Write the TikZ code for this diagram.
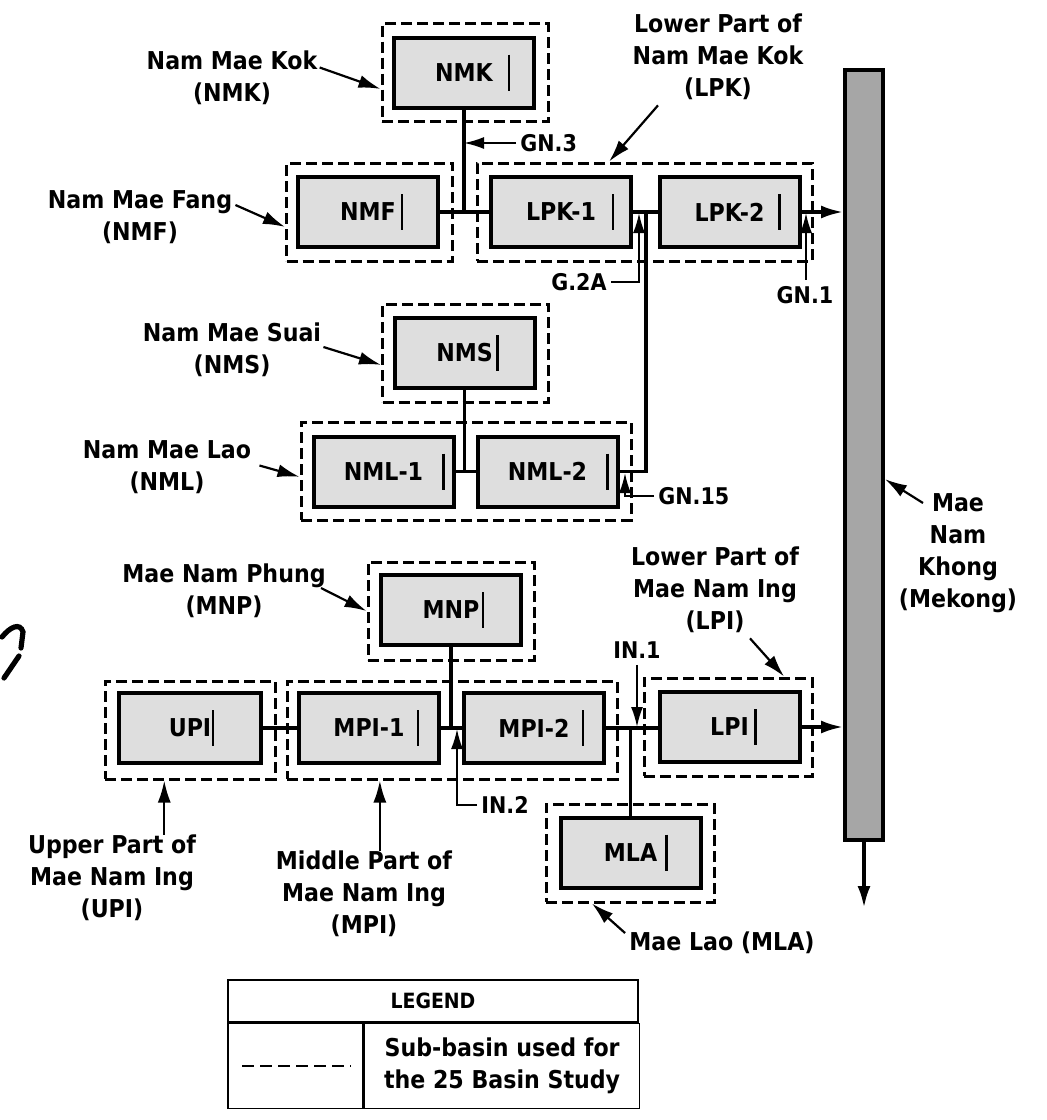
\documentclass[tikz,border=0pt]{standalone}
\usepackage{fontspec}
\setmainfont{DejaVu Sans Condensed}
\usetikzlibrary{arrows.meta,calc}
\begin{document}
\begin{tikzpicture}[x=0.5pt,y=-0.5pt,
  every node/.style={font=\bfseries\fontsize{12.3}{16}\selectfont, inner sep=0pt},
  basin/.style={draw, line width=2pt, fill=black!13, minimum width=70pt, minimum height=35pt},
  sub/.style={draw, dash pattern=on 5.5pt off 2.5pt, line width=1.5pt, minimum height=49pt, minimum width=83pt},
  subw/.style={sub, minimum width=166pt},
  river/.style={line width=1.8pt},
  flow/.style={line width=1.6pt, -{Latex[length=11pt,width=6.5pt]}},
  lab/.style={align=center},
  labarrow/.style={line width=1.1pt, -{Latex[length=11pt,width=6.5pt]}},
  gauge/.style={font=\bfseries\fontsize{11.5}{13}\selectfont},
  gaugearrow/.style={line width=1pt, -{Latex[length=10pt,width=6pt]}},
  cursor/.style={line width=1.2pt},
  legcell/.style={draw, line width=0.8pt, align=center},
]
\useasboundingbox (0,0) rectangle (1046,1120);

% sub-basin (dashed) outlines
\node[sub] (NMKo) at (465,72.5) {};
\node[sub] (NMFo) at (369.5,212) {};
\node[subw, minimum width=167.5pt] (LPKo) at (644.5,212) {};
\node[sub] (NMSo) at (465.5,353) {};
\node[subw, minimum width=165pt] (NMLo) at (466,471) {};
\node[sub] (MNPo) at (451,611) {};
\node[sub, minimum width=85pt] (UPIo) at (190,730) {};
\node[subw, minimum width=165pt] (MPIo) at (452,730) {};
\node[sub, minimum width=84pt] (LPIo) at (728,727) {};
\node[sub, minimum width=84pt] (MLAo) at (630,853) {};

% basins
\node[basin] (NMK) at (464,72.5) {NMK};
\node[basin] (NMF) at (368,212) {NMF};
\node[basin] (LPK1) at (561,212) {LPK-1};
\node[basin] (LPK2) at (729.5,212) {LPK-2};
\node[basin] (NMS) at (464.5,353) {NMS};
\node[basin] (NML1) at (383.5,471.5) {NML-1};
\node[basin] (NML2) at (547.5,471.5) {NML-2};
\node[basin] (MNP) at (451,610) {MNP};
\node[basin, minimum width=71pt] (UPI) at (190,728) {UPI};
\node[basin] (MPI1) at (369,728) {MPI-1};
\node[basin] (MPI2) at (534,728) {MPI-2};
\node[basin] (LPI) at (729.5,727) {LPI};
\node[basin] (MLA) at (630.5,852.5) {MLA};

\foreach \n/\d in {NMK/45,NMF/34,LPK1/52,LPK2/50,NMS/33,NML1/60,NML2/60,MNP/32,UPI/23,MPI1/49,MPI2/49,LPI/26,MLA/36}
  \draw[cursor] ([shift={(\d,-18)}]\n.center) -- ++(0,36);

% Mekong
\node[draw, line width=2pt, fill=black!35, minimum width=19pt, minimum height=385pt] (mek) at (864,455) {};

% river connections
\draw[river] (NMK.south) -- (NMK.south |- NMF.east);
\draw[river] (NMF.east) -- (LPK1.west);
\draw[river] (LPK1.east) -- (LPK2.west);
\draw[flow] (LPK2.east) -- (LPK2.east -| mek.west);
\coordinate (j2) at (646,212);
\draw[river] (NML2.east) -| (j2);
\draw[river] (NMS.south) -- (NMS.south |- NML1.east);
\draw[river] (NML1.east) -- (NML2.west);
\draw[river] (MNP.south) -- (MNP.south |- MPI1.east);
\draw[river] (UPI.east) -- (MPI1.west);
\draw[river] (MPI1.east) -- (MPI2.west);
\draw[river] (MPI2.east) -- (MPI2.east -| LPI.west);
\draw[river] (MLA.north) -- (MLA.north |- MPI2.east);
\draw[flow] (LPI.east) -- (LPI.east -| mek.west);
\coordinate (mekEnd) at (864,908);
\draw[flow, line width=1.8pt] (mek.south) -- (mekEnd);

% gauges
\node[gauge, anchor=west] (gn3) at (520,143) {GN.3};
\draw[gaugearrow, shorten <=2pt] (gn3.west) -- (gn3.west -| NMK.south);
\node[gauge, anchor=east] (g2a) at (607,282) {G.2A};
\coordinate (g2aT) at (639,213);
\draw[gaugearrow, shorten <=2pt] (g2a.east) -| (g2aT);
\node[gauge] (gn1) at (805,295) {GN.1};
\coordinate (gn1T) at (806,213);
\draw[gaugearrow, shorten <=3pt] (gn1.north -| gn1T) -- (gn1T);
\node[gauge, anchor=west] (gn15) at (658,496) {GN.15};
\coordinate (gn15T) at (625,473);
\draw[gaugearrow, shorten <=2pt] (gn15.west) -| (gn15T);
\node[gauge, anchor=west] (in2) at (481,805) {IN.2};
\coordinate (in2T) at (457,729);
\draw[gaugearrow, shorten <=2pt] (in2.west) -| (in2T);
\node[gauge] (in1) at (637,650) {IN.1};
\coordinate (in1T) at (637,727);
\draw[gaugearrow, shorten <=3pt] (in1.south) -- (in1T);

% labels
\node[lab] (nmkl) at (232,77.5) {Nam Mae Kok\\(NMK)};
\draw[labarrow] ([shift={(2,-10)}]nmkl.east) -- (NMKo.191);
\node[lab] (nmfl) at (140,217) {Nam Mae Fang\\(NMF)};
\draw[labarrow] ([shift={(3,-12)}]nmfl.east) -- (NMFo.190);
\node[lab] (nmsl) at (232,350) {Nam Mae Suai\\(NMS)};
\draw[labarrow] ([shift={(2,-3)}]nmsl.east) -- (NMSo.188);
\node[lab] (nmll) at (167,467.5) {Nam Mae Lao\\(NML)};
\draw[labarrow] ([shift={(8,-2)}]nmll.east) -- (NMLo.182);
\node[lab] (mnpl) at (224,591) {Mae Nam Phung\\(MNP)};
\draw[labarrow] ([shift={(-5,-3)}]mnpl.east) -- (MNPo.west);
\node[lab] (lpkl) at (718,57) {Lower Part of\\Nam Mae Kok\\(LPK)};
\draw[labarrow] ([shift={(-60,5)}]lpkl.south) -- (LPKo.125);
\node[lab] (lpil) at (715,590) {Lower Part of\\Mae Nam Ing\\(LPI)};
\draw[labarrow] ([shift={(35,5)}]lpil.south) -- (LPIo.42);
\node[lab] (upil) at (112,878) {Upper Part of\\Mae Nam Ing\\(UPI)};
\draw[labarrow] (upil.north -| UPIo.243) -- (UPIo.243);
\node[lab] (mpil) at (364,894) {Middle Part of\\Mae Nam Ing\\(MPI)};
\draw[labarrow] (mpil.north -| MPIo.215) -- (MPIo.215);
\node[lab] (mlal) at (722,943) {Mae Lao (MLA)};
\draw[labarrow] ([shift={(-4,-10)}]mlal.west) -- (MLAo.233);
\node[lab] (mekl) at (958,553) {Mae\\Nam\\Khong\\(Mekong)};
\draw[labarrow] ([shift={(-35,-50)}]mekl.center) -- (mek.-49);

% legend
\node[legcell, minimum width=205pt, minimum height=21pt, font=\bfseries\fontsize{10.5}{12}\selectfont] (legh) at (433,1001) {LEGEND};
\node[legcell, minimum width=67.5pt, minimum height=42.5pt, anchor=north west] (legl) at (legh.south west) {};
\node[legcell, minimum width=137.5pt, minimum height=42.5pt, anchor=north west] (legr) at (legl.north east) {Sub-basin used for\\the 25 Basin Study};
\draw[line width=1pt, dash pattern=on 6pt off 3pt] ([xshift=7.5pt]legl.west) -- ([xshift=-6.5pt]legl.east);

% stray mark at left edge
\draw[line width=2.6pt, line cap=round] (2,637) .. controls (10,627) and (20,622) .. (23,632) -- (21,648);
\draw[line width=2.6pt, line cap=round] (19,656) -- (4,678);
\end{tikzpicture}
\end{document}
